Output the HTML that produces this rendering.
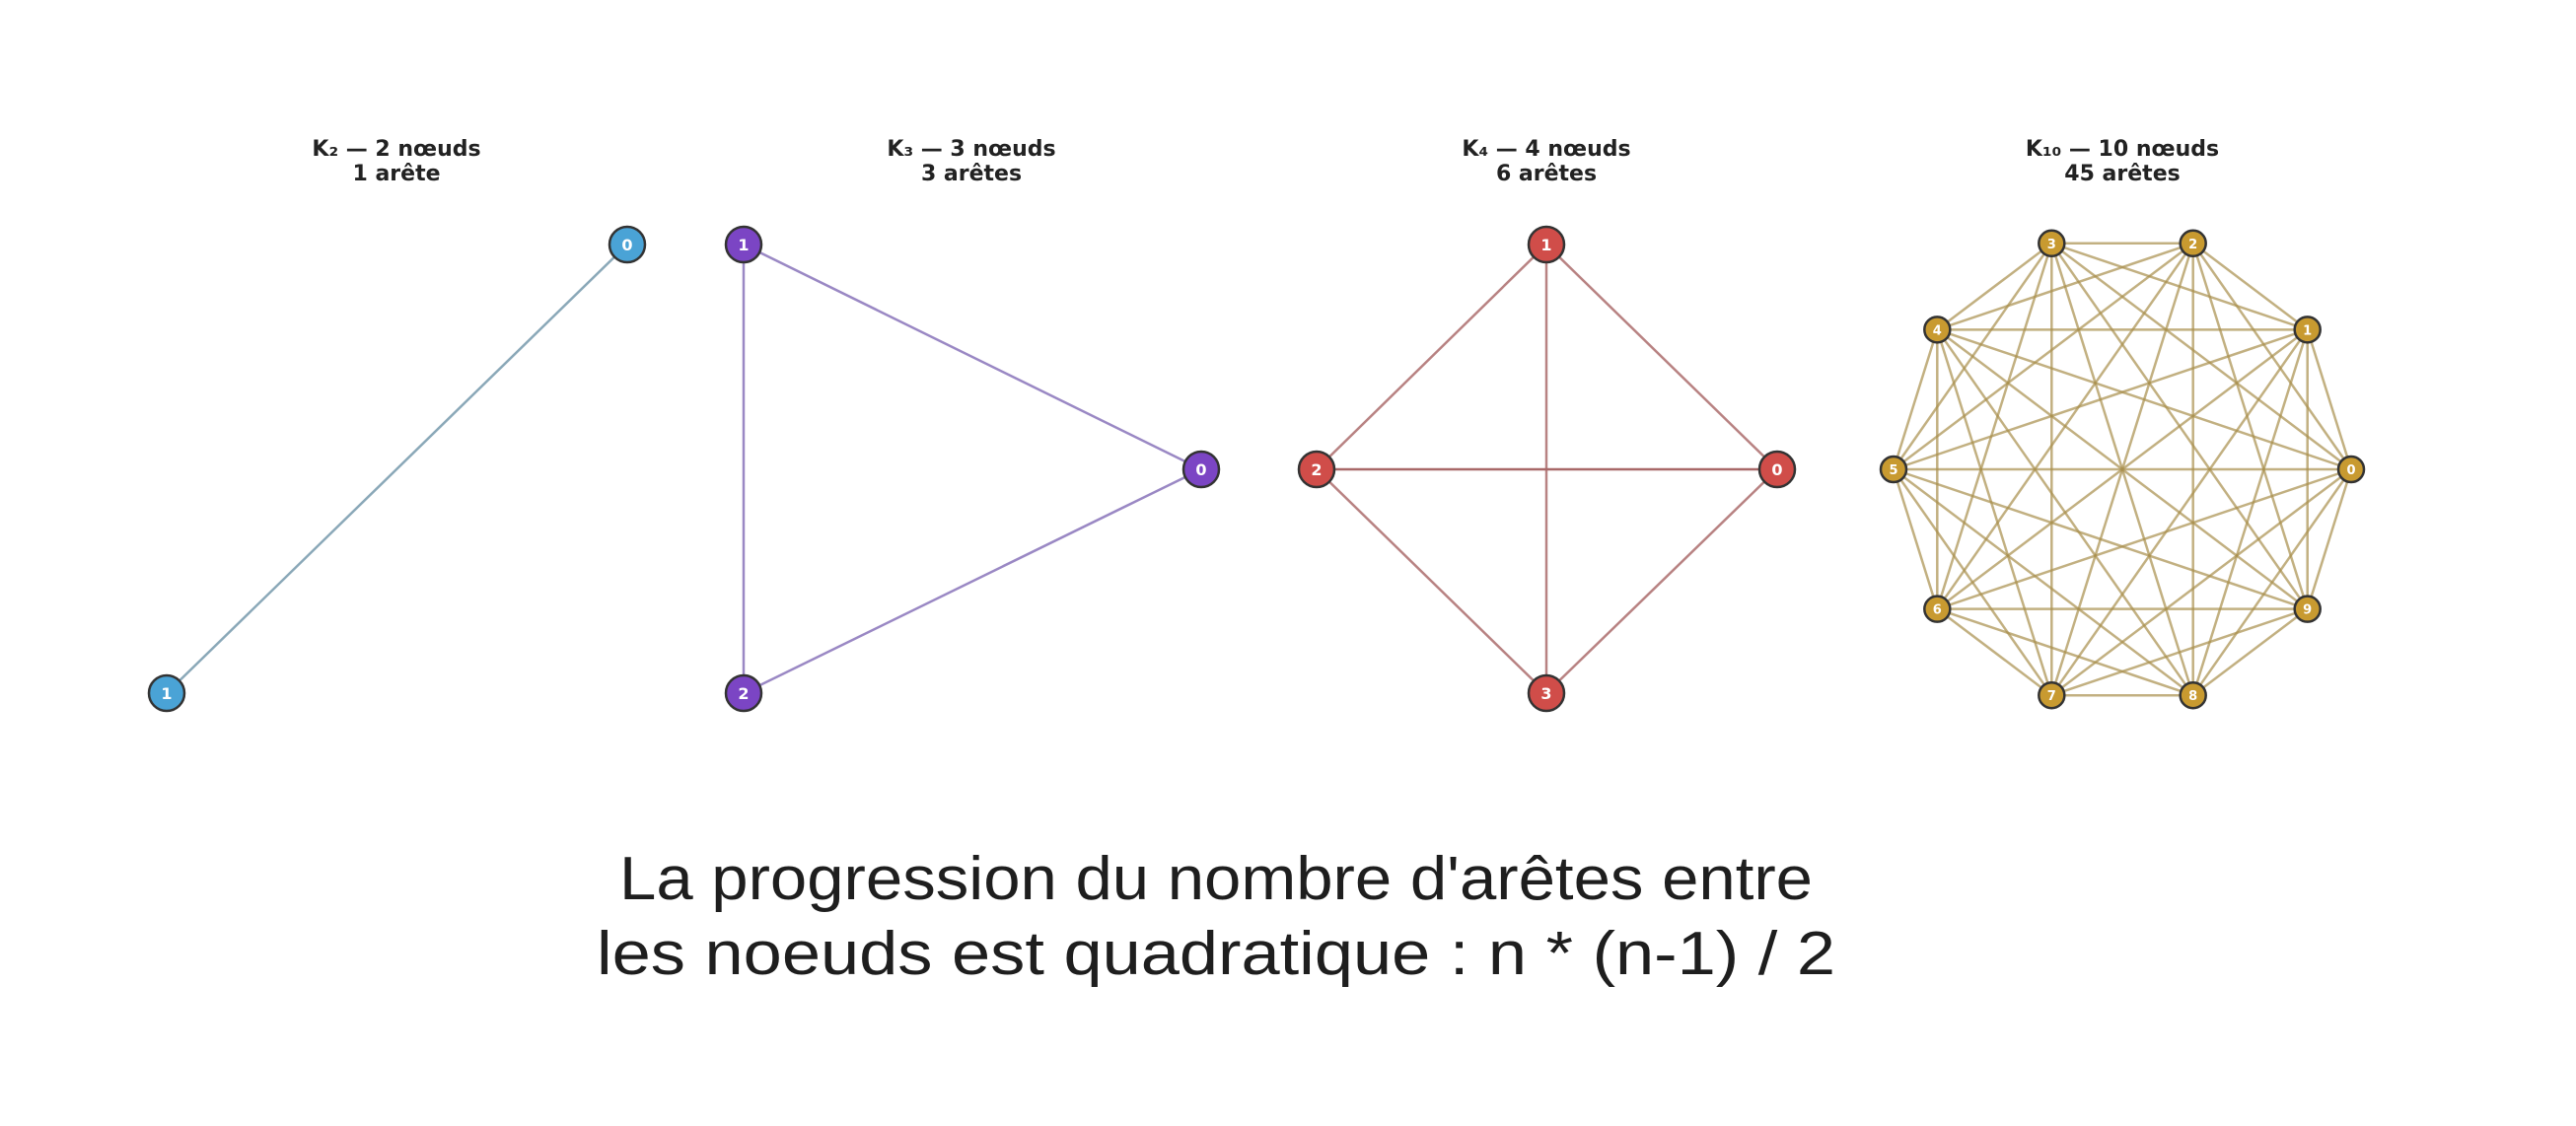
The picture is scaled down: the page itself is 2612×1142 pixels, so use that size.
<!DOCTYPE html>
<html><head><meta charset="utf-8"><style>
html,body{margin:0;padding:0;background:#fff;}
svg{display:block;}
</style></head><body>
<svg id="s" width="2612" height="1142" viewBox="0 0 2612 1142" xmlns="http://www.w3.org/2000/svg">
<g font-family="DejaVu Sans, Liberation Sans, sans-serif" font-weight="bold" font-size="22" fill="#222" text-anchor="middle">
<text x="402" y="158">K₂ — 2 nœuds</text><text x="402" y="183">1 arête</text>
<text x="985" y="158">K₃ — 3 nœuds</text><text x="985" y="183">3 arêtes</text>
<text x="1568" y="158">K₄ — 4 nœuds</text><text x="1568" y="183">6 arêtes</text>
<text x="2152" y="158">K₁₀ — 10 nœuds</text><text x="2152" y="183">45 arêtes</text>
</g>
<line x1="636" y1="248" x2="169" y2="703" stroke="#8aa8b8" stroke-width="2.5"/>
<g stroke="#9a88c4" stroke-width="2.5">
<line x1="754" y1="248" x2="1218" y2="476"/><line x1="754" y1="248" x2="754" y2="703"/><line x1="754" y1="703" x2="1218" y2="476"/>
</g>
<g stroke="#b88282" stroke-width="2.5">
<line x1="1568" y1="248" x2="1802" y2="476"/><line x1="1568" y1="248" x2="1335" y2="476"/><line x1="1568" y1="248" x2="1568" y2="703"/>
<line x1="1335" y1="476" x2="1802" y2="476" stroke="#a86868"/><line x1="1335" y1="476" x2="1568" y2="703"/><line x1="1802" y1="476" x2="1568" y2="703"/>
</g>
<g id="k10e" stroke="#a88f4c" stroke-opacity="0.7" stroke-width="2.5"></g>
<g font-family="DejaVu Sans, sans-serif" font-weight="bold" fill="#fff" text-anchor="middle" stroke="#333" stroke-width="2.5">
<circle cx="636" cy="248" r="18" fill="#4aa3d6"/><circle cx="169" cy="703" r="18" fill="#4aa3d6"/>
<circle cx="1218" cy="476" r="18" fill="#7b45c4"/><circle cx="754" cy="248" r="18" fill="#7b45c4"/><circle cx="754" cy="703" r="18" fill="#7b45c4"/>
<circle cx="1802" cy="476" r="18" fill="#d04d49"/><circle cx="1568" cy="248" r="18" fill="#d04d49"/><circle cx="1335" cy="476" r="18" fill="#d04d49"/><circle cx="1568" cy="703" r="18" fill="#d04d49"/>
</g>
<g font-family="DejaVu Sans, sans-serif" font-weight="bold" font-size="16" fill="#fff" text-anchor="middle">
<text x="636" y="254">0</text><text x="169" y="709">1</text>
<text x="1218" y="482">0</text><text x="754" y="254">1</text><text x="754" y="709">2</text>
<text x="1802" y="482">0</text><text x="1568" y="254">1</text><text x="1335" y="482">2</text><text x="1568" y="709">3</text>
</g>
<g id="k10n"></g>
<g font-family="Liberation Sans, DejaVu Sans, sans-serif" font-size="62" fill="#1e1e1e" text-anchor="middle">
<text x="1233" y="912" textLength="1210" lengthAdjust="spacingAndGlyphs">La progression du nombre d'arêtes entre</text>
<text x="1233" y="988" textLength="1256" lengthAdjust="spacingAndGlyphs">les noeuds est quadratique : n * (n-1) / 2</text>
</g>
</svg>
<script>
(function(){
var ns="http://www.w3.org/2000/svg",cx=2152,cy=476,rx=232,ry=241,P=[];
for(var i=0;i<10;i++){var a=i*Math.PI/5;P.push([cx+rx*Math.cos(a),cy-ry*Math.sin(a)]);}
var e=document.getElementById("k10e"),n=document.getElementById("k10n");
for(var i=0;i<10;i++)for(var j=i+1;j<10;j++){var l=document.createElementNS(ns,"line");
l.setAttribute("x1",P[i][0]);l.setAttribute("y1",P[i][1]);l.setAttribute("x2",P[j][0]);l.setAttribute("y2",P[j][1]);e.appendChild(l);}
for(var i=0;i<10;i++){var c=document.createElementNS(ns,"circle");c.setAttribute("cx",P[i][0]);c.setAttribute("cy",P[i][1]);c.setAttribute("r",13);
c.setAttribute("fill","#c89a30");c.setAttribute("stroke","#333");c.setAttribute("stroke-width","2.5");n.appendChild(c);
var t=document.createElementNS(ns,"text");t.setAttribute("x",P[i][0]);t.setAttribute("y",P[i][1]+5);t.setAttribute("text-anchor","middle");
t.setAttribute("font-family","DejaVu Sans, sans-serif");t.setAttribute("font-weight","bold");t.setAttribute("font-size","13");t.setAttribute("fill","#fff");
t.textContent=i;n.appendChild(t);}
})();
</script>
</body></html>
